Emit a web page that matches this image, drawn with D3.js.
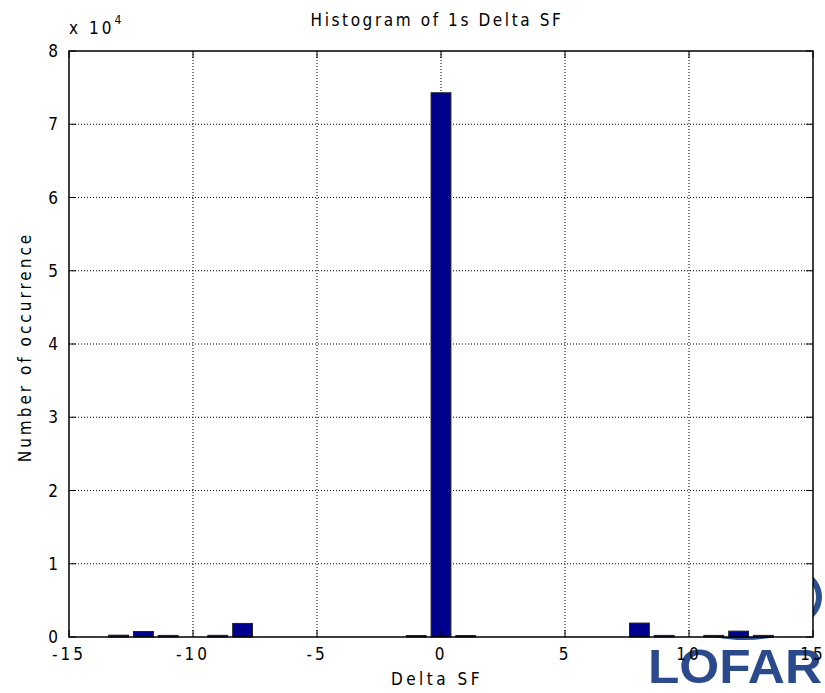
<!DOCTYPE html>
<html><head><meta charset="utf-8">
<script src="https://cdn.jsdelivr.net/npm/d3@7"></script>
<style>
body{margin:0;background:#fff;}
text{font-family:"Liberation Sans Narrow","DejaVu Sans Condensed","Liberation Sans",sans-serif;fill:#000;}
</style></head><body>
<svg id="c" width="825" height="693"></svg>
<script>
const binCenters = [-13,-12,-11,-9,-8,-1,0,1,8,9,11,12,13];
const counts =     [250,750,220,230,1850,200,74300,200,1900,220,220,800,220];
const xTicks = [-15,-10,-5,0,5,10,15];
const yTicks = [0,1,2,3,4,5,6,7,8];
const title = "Histogram of 1s Delta SF";
const xLabel = "Delta SF";
const yLabel = "Number of occurrence";

const svg = d3.select("#c");
const L=69,R=813,T=51,B=637;
const x = d3.scaleLinear().domain([-15,15]).range([L,R]);
const y = d3.scaleLinear().domain([0,80000]).range([B,T]);

// LOFAR logo (behind plot)
svg.append("ellipse").attr("cx",745).attr("cy",597).attr("rx",74).attr("ry",40)
  .attr("fill","none").attr("stroke","#2b4f8f").attr("stroke-width",6);
svg.append("text").attr("x",735).attr("y",683).attr("text-anchor","middle")
  .style("font-family","'Liberation Sans','DejaVu Sans',sans-serif").style("font-weight","bold")
  .style("font-size","48px").style("fill","#2b4a8c").attr("textLength",174).attr("lengthAdjust","spacingAndGlyphs").text("LOFAR");

svg.append("rect").attr("x",L).attr("y",T).attr("width",R-L).attr("height",B-T).attr("fill","#fff");

// grid
const g = svg.append("g");
g.selectAll(".vg").data(xTicks.slice(1,-1)).enter().append("line")
  .attr("x1",d=>x(d)).attr("x2",d=>x(d)).attr("y1",T).attr("y2",B)
  .attr("stroke","#000").attr("stroke-width",1).attr("stroke-dasharray","1,2");
g.selectAll(".hg").data(yTicks.slice(1,-1)).enter().append("line")
  .attr("y1",d=>y(d*1e4)).attr("y2",d=>y(d*1e4)).attr("x1",L).attr("x2",R)
  .attr("stroke","#000").attr("stroke-width",1).attr("stroke-dasharray","1,2");

// bars
const bw = 0.8;
svg.selectAll(".bar").data(binCenters.map((c,i)=>({c,v:counts[i]}))).enter().append("rect")
  .attr("x",d=>x(d.c-bw/2)).attr("width",d=>x(d.c+bw/2)-x(d.c-bw/2))
  .attr("y",d=>y(d.v)).attr("height",d=>B-y(d.v))
  .attr("fill","#00008f").attr("stroke","#222").attr("stroke-width",1);

// axes box
svg.append("rect").attr("x",L).attr("y",T).attr("width",R-L).attr("height",B-T)
  .attr("fill","none").attr("stroke","#000").attr("stroke-width",1.5);

// ticks
const tl=7;
xTicks.forEach(t=>{
  svg.append("line").attr("x1",x(t)).attr("x2",x(t)).attr("y1",B).attr("y2",B-tl).attr("stroke","#000");
  svg.append("line").attr("x1",x(t)).attr("x2",x(t)).attr("y1",T).attr("y2",T+tl).attr("stroke","#000");
});
yTicks.forEach(t=>{
  svg.append("line").attr("y1",y(t*1e4)).attr("y2",y(t*1e4)).attr("x1",L).attr("x2",L+tl).attr("stroke","#000");
  svg.append("line").attr("y1",y(t*1e4)).attr("y2",y(t*1e4)).attr("x1",R).attr("x2",R-tl).attr("stroke","#000");
});

const fs="17px", ls="3px";
svg.selectAll(".xt").data(xTicks).enter().append("text")
  .attr("x",d=>x(d)).attr("y",B+23).attr("text-anchor","middle")
  .style("font-size",fs).style("letter-spacing",ls).text(d=>d);
svg.selectAll(".yt").data(yTicks).enter().append("text")
  .attr("x",L-11).attr("y",d=>y(d*1e4)+6).attr("text-anchor","end")
  .style("font-size",fs).text(d=>d);

const ex = svg.append("text").attr("x",69).attr("y",34).style("font-size",fs).style("letter-spacing",ls);
ex.append("tspan").text("x 10");
ex.append("tspan").attr("dy",-10).style("font-size","12px").text("4");

svg.append("text").attr("x",437).attr("y",26).attr("text-anchor","middle")
  .style("font-size",fs).style("letter-spacing","2.6px").text(title);
svg.append("text").attr("x",437).attr("y",685).attr("text-anchor","middle")
  .style("font-size",fs).style("letter-spacing","3.5px").text(xLabel);
svg.append("text").attr("transform","translate(31,347) rotate(-90)").attr("text-anchor","middle")
  .style("font-size",fs).style("letter-spacing","3px").text(yLabel);
</script></body></html>
